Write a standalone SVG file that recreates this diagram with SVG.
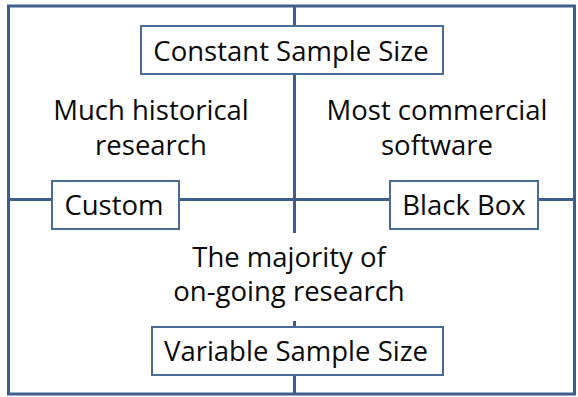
<svg xmlns="http://www.w3.org/2000/svg" width="578" height="397" viewBox="0 0 578 397">
<style>
.ln{stroke:#3d5e8c;stroke-width:3;fill:none}
.box{fill:#ffffff;stroke:#4a6a98;stroke-width:2}
.t{font-family:"Open Sans","Noto Sans",sans-serif;font-size:27.5px;fill:#0a0a0a;text-anchor:middle}
</style>
<rect width="578" height="397" fill="#ffffff"/>
<g id="connectors">
<rect class="ln" x="8.5" y="6" width="566" height="388"/>
<line class="ln" x1="294.5" y1="6" x2="294.5" y2="394"/>
<line class="ln" x1="8.5" y1="199.5" x2="574.5" y2="199.5"/>
</g>
<g id="majority">
<rect x="168" y="233" width="244" height="88" fill="#ffffff"/>
<text class="t" x="289" y="267">The majority of</text>
<text class="t" x="289" y="301">on-going research</text>
</g>
<g id="historical">
<text class="t" x="151" y="120">Much historical</text>
<text class="t" x="151" y="155">research</text>
</g>
<g id="commercial">
<text class="t" x="437" y="120">Most commercial</text>
<text class="t" x="437" y="155">software</text>
</g>
<g id="constant">
<rect class="box" x="141" y="26" width="302" height="48"/>
<text class="t" x="291" y="61">Constant Sample Size</text>
</g>
<g id="custom">
<rect class="box" x="52" y="181" width="127" height="48"/>
<text class="t" x="114" y="215">Custom</text>
</g>
<g id="blackbox">
<rect class="box" x="390" y="181" width="148" height="48"/>
<text class="t" x="464" y="215">Black Box</text>
</g>
<g id="variable">
<rect class="box" x="152" y="327" width="291" height="48"/>
<text class="t" x="296" y="361">Variable Sample Size</text>
</g>
</svg>
